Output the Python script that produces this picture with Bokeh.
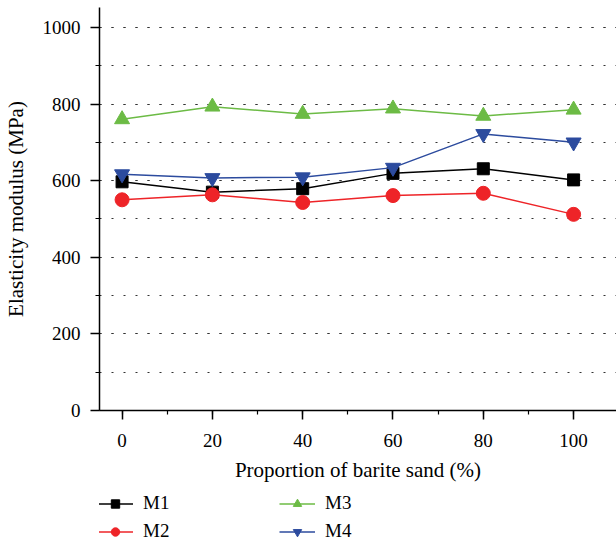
from bokeh.plotting import figure
from bokeh.layouts import column
from bokeh.models import Legend, LegendItem, SingleIntervalTicker, Range1d
from bokeh.embed import file_html
from bokeh.resources import INLINE

# Data
x_vals = [0, 20, 40, 60, 80, 100]
m1 = [597, 570, 579, 619, 631, 602]
m2 = [550, 563, 543, 561, 567, 512]
m3 = [760, 793, 774, 788, 769, 785]
m4 = [617, 607, 609, 634, 722, 700]
names = ["M1", "M2", "M3", "M4"]
colors = ["#000000", "#ee2428", "#6cbb45", "#2c4b9e"]
markers = ["square", "circle", "triangle", "inverted_triangle"]
sizes = [12, 14, 15, 15]

FONT = "Liberation Serif"

p = figure(width=616, height=486, output_backend="svg", toolbar_location=None,
           x_range=Range1d(-5, 109.5), y_range=Range1d(0, 1052),
           min_border_left=97, min_border_right=0, min_border_top=7,
           min_border_bottom=76)
p.outline_line_color = None
p.background_fill_color = "white"

for ax in (p.xaxis[0], p.yaxis[0]):
    ax.axis_line_width = 1.5
    ax.major_tick_line_width = 1.5
    ax.minor_tick_line_width = 1.2
    ax.major_tick_in = 0
    ax.major_tick_out = 9
    ax.minor_tick_in = 0
    ax.minor_tick_out = 4
    ax.major_label_text_font = FONT
    ax.major_label_text_font_size = "19px"
    ax.major_label_text_color = "#000000"
    ax.axis_label_text_font = FONT
    ax.axis_label_text_font_size = "21px"
    ax.axis_label_text_font_style = "normal"
    ax.axis_label_text_color = "#000000"

p.xaxis.ticker = SingleIntervalTicker(interval=20, num_minor_ticks=2)
p.yaxis.ticker = SingleIntervalTicker(interval=200, num_minor_ticks=2)
p.xaxis.axis_label = "Proportion of barite sand (%)"
p.yaxis.axis_label = "Elasticity modulus (MPa)"
p.xaxis.major_label_standoff = 14
p.xaxis.axis_label_standoff = 8
p.yaxis.major_label_standoff = 10
p.yaxis.axis_label_standoff = 12

p.xgrid.grid_line_color = None
p.ygrid.grid_line_color = "#333333"
p.ygrid.grid_line_dash = "2 10"
p.ygrid.grid_line_width = 1.2
p.ygrid.minor_grid_line_color = "#333333"
p.ygrid.minor_grid_line_dash = "2 10"
p.ygrid.minor_grid_line_width = 1.2

series = [m1, m2, m3, m4]
for name, ys, c, mk, sz in zip(names, series, colors, markers, sizes):
    p.line(x_vals, ys, line_color=c, line_width=1.5)
    p.scatter(x_vals, ys, marker=mk, size=sz, fill_color=c, line_color=c)

# Legend panel: a small figure below the chart whose view range holds no data,
# so only the legend (built from the same series) is visible
lg = figure(width=616, height=58, output_backend="svg", toolbar_location=None,
            x_range=Range1d(1000, 1001), y_range=Range1d(5000, 5001),
            x_axis_location=None, y_axis_location=None,
            min_border_left=97, min_border_right=0, min_border_top=0,
            min_border_bottom=0)
lg.outline_line_color = None
lg.xgrid.grid_line_color = None
lg.ygrid.grid_line_color = None

items = []
for name, ys, c, mk, sz in zip(names, series, colors, markers, sizes):
    ln = lg.line(x_vals, ys, line_color=c, line_width=1.5)
    sc = lg.scatter(x_vals, ys, marker=mk, size=sz, fill_color=c, line_color=c)
    items.append(LegendItem(label=name, renderers=[ln, sc]))

legend = Legend(items=items, ncols=2, location=(-2, 2),
                padding=0, margin=0, spacing=6,
                glyph_width=36, glyph_height=21, label_height=21,
                label_width=130, label_standoff=10,
                label_text_font=FONT, label_text_font_size="19px",
                label_text_color="#000000",
                border_line_alpha=0, background_fill_alpha=0)
lg.add_layout(legend, "center")

layout = column(p, lg, spacing=0)
open("out.html", "w").write(file_html(layout, INLINE))
